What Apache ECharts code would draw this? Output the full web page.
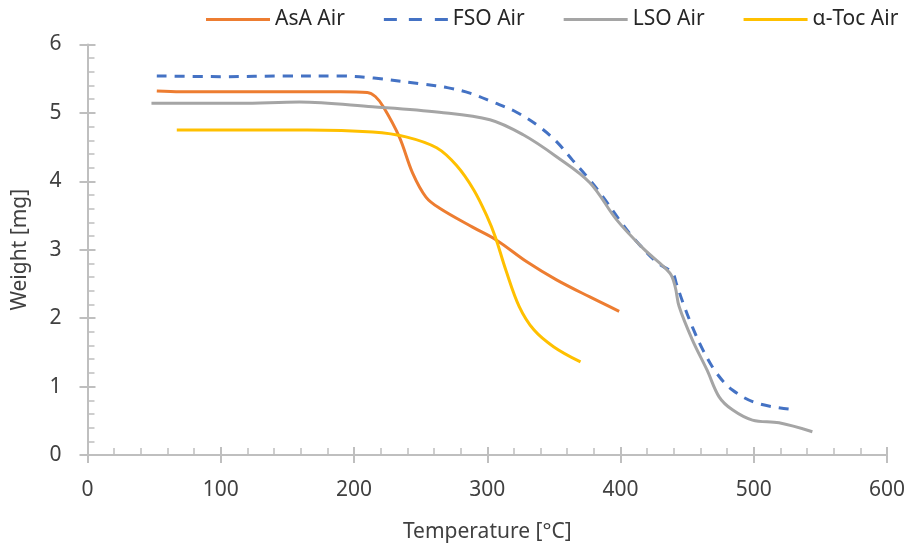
<!DOCTYPE html>
<html><head><meta charset="utf-8">
<script src="https://cdn.jsdelivr.net/npm/echarts@6/dist/echarts.min.js"></script>
<style>html,body{margin:0;padding:0;background:#fff}#c{width:919px;height:548px}</style>
</head><body><div id="c"></div>
<script>
const seriesNames = ['AsA Air', 'FSO Air', 'LSO Air', 'α-Toc Air'];
const xTicks = [0, 100, 200, 300, 400, 500, 600];
const yTicks = [0, 1, 2, 3, 4, 5, 6];
const asaAir = [[52,5.32],[70,5.31],[100,5.31],[150,5.31],[190,5.31],[210,5.30],[216,5.24],[222,5.09],[234,4.65],[244,4.12],[254,3.77],[264,3.61],[289,3.33],[307,3.14],[330,2.82],[352,2.56],[377,2.31],[399,2.10]];
const fsoAir = [[52,5.54],[100,5.53],[150,5.54],[190,5.54],[215,5.51],[252,5.42],[270,5.37],[287,5.29],[304,5.16],[322,5.01],[339,4.80],[352,4.58],[364,4.31],[377,4.02],[387,3.77],[399,3.44],[409,3.19],[427,2.82],[439,2.66],[442,2.50],[447,2.22],[454,1.87],[462,1.53],[472,1.20],[484,0.95],[502,0.76],[527,0.67]];
const lsoAir = [[48,5.14],[80,5.14],[114,5.14],[159,5.16],[214,5.09],[264,5.01],[302,4.90],[327,4.68],[352,4.36],[377,3.98],[397,3.44],[417,3.02],[437,2.66],[441,2.46],[444,2.17],[454,1.68],[465,1.24],[474,0.85],[484,0.66],[499,0.51],[519,0.47],[544,0.34]];
const tocAir = [[67,4.75],[120,4.75],[165,4.75],[214,4.72],[239,4.65],[262,4.49],[277,4.23],[290,3.87],[300,3.48],[306,3.19],[314,2.70],[324,2.17],[335,1.83],[350,1.58],[370,1.36]];
const colors = ['#ED7D31', '#4472C4', '#A5A5A5', '#FFC000'];
const font = '"Noto Sans", sans-serif';
const chart = echarts.init(document.getElementById('c'));
const mk = (name, data, color, type) => ({
  name, type: 'line', data, smooth: 0.35, symbol: 'none', showSymbol: false,
  lineStyle: {color, width: 3, type: type || 'solid'}, itemStyle: {color}
});
const solidIcon = 'path://M0,0H64V3H0Z';
const dashIcon = 'path://M0,0H13V3H0Z M25,0H38V3H25Z M51,0H64V3H51Z';
const axColor = '#BFBFBF';
chart.setOption({
  animation: false,
  color: colors,
  textStyle: {fontFamily: font},
  legend: {
    top: 4, left: 201, width: 718, itemWidth: 64, itemHeight: 3, itemGap: 39,
    textStyle: {fontFamily: font, fontSize: 21, color: '#262626'},
    data: seriesNames.map((n, i) => ({name: n, icon: i === 1 ? dashIcon : solidIcon}))
  },
  grid: {left: 87.5, right: 32, top: 44.5, bottom: 93, outerBoundsMode: 'none', containLabel: false},
  xAxis: [{
    type: 'value', min: 0, max: 600, interval: 100,
    name: 'Temperature [°C]', nameLocation: 'middle', nameGap: 67,
    nameTextStyle: {fontFamily: font, fontSize: 21, color: '#404040'},
    axisLine: {lineStyle: {color: axColor, width: 2}},
    axisTick: {inside: true, length: 8, lineStyle: {color: axColor, width: 2}},
    minorTick: {show: true, splitNumber: 5, length: 7, lineStyle: {color: axColor, width: 1.5}},
    axisLabel: {fontFamily: font, fontSize: 21, color: '#404040', margin: 25},
    splitLine: {show: false}
  }, {
    type: 'value', min: 0, max: 600, interval: 100, position: 'bottom', offset: 0,
    axisLine: {show: false},
    axisTick: {inside: false, length: 8, lineStyle: {color: axColor, width: 2}},
    axisLabel: {show: false}, splitLine: {show: false}
  }],
  yAxis: [{
    type: 'value', min: 0, max: 6, interval: 1,
    name: 'Weight [mg]', nameLocation: 'middle', nameGap: 57,
    nameTextStyle: {fontFamily: font, fontSize: 21, color: '#404040'},
    axisLine: {show: true, lineStyle: {color: axColor, width: 2}},
    axisTick: {show: true, inside: true, length: 8, lineStyle: {color: axColor, width: 2}},
    minorTick: {show: true, splitNumber: 5, length: 7, lineStyle: {color: axColor, width: 1.5}},
    axisLabel: {fontFamily: font, fontSize: 21, color: '#404040', margin: 26},
    splitLine: {show: false}
  }, {
    type: 'value', min: 0, max: 6, interval: 1, position: 'left', offset: 0,
    axisLine: {show: false},
    axisTick: {show: true, inside: false, length: 8, lineStyle: {color: axColor, width: 2}},
    axisLabel: {show: false}, splitLine: {show: false}
  }],
  series: [
    mk(seriesNames[0], asaAir, colors[0]),
    mk(seriesNames[1], fsoAir, colors[1], [10, 8]),
    mk(seriesNames[2], lsoAir, colors[2]),
    mk(seriesNames[3], tocAir, colors[3])
  ]
});
</script></body></html>
